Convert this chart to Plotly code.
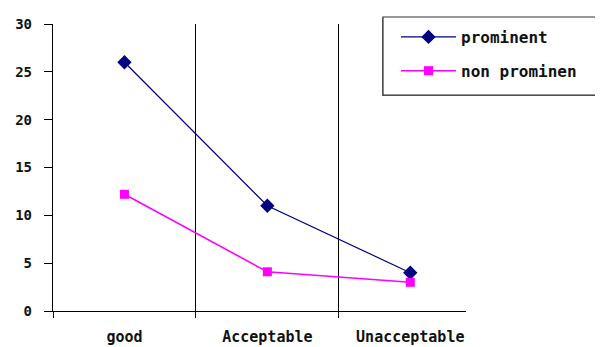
import plotly.graph_objects as go

categories = ["good", "Acceptable", "Unacceptable"]
prominent = [26, 11, 4]
non_prominent = [12.2, 4.1, 3]
series_names = ["prominent", "non prominen"]
y_ticks = [0, 5, 10, 15, 20, 25, 30]

fig = go.Figure()
fig.add_trace(go.Scatter(
    x=categories, y=prominent, name=series_names[0], mode="lines+markers",
    legendgroup="a",
    line=dict(color="#000080", width=1.2),
    marker=dict(symbol="diamond", size=11, color="#000080"),
))
fig.add_trace(go.Scatter(
    x=categories, y=non_prominent, name=series_names[1], mode="lines+markers",
    legendgroup="b",
    line=dict(color="#FF00FF", width=1.6),
    marker=dict(symbol="square", size=9, color="#FF00FF"),
))

mono = "DejaVu Sans Mono"

# the page body adds an 8px offset, so the figure is 8px smaller
fig.update_layout(
    width=595, height=339,
    margin=dict(l=45, r=137, t=16, b=36, autoexpand=False),
    paper_bgcolor="white", plot_bgcolor="white",
    font=dict(family=mono, size=14, color="black"),
    showlegend=True,
    legend=dict(
        x=0.8305, y=1.014, xanchor="left", yanchor="top",
        bgcolor="rgba(0,0,0,0)", borderwidth=0,
        font=dict(family=mono, size=16, weight="bold", color="#111111"),
        tracegroupgap=10, itemwidth=55,
    ),
    shapes=[
        # legend shadow
        dict(type="rect", xref="paper", yref="paper", layer="above",
             x0=0.797, x1=1.7, y0=0.749, y1=1.021,
             line=dict(width=0), fillcolor="#666666"),
        # legend background (no outline)
        dict(type="rect", xref="paper", yref="paper", layer="above",
             x0=0.799, x1=1.7, y0=0.7526, y1=1.0244,
             line=dict(width=0), fillcolor="white"),
        # legend outline: top, left, bottom only (box runs off the right edge)
        dict(type="path", xref="paper", yref="paper", layer="above",
             path="M 1.7,1.0244 L 0.799,1.0244 L 0.799,0.7526 L 1.7,0.7526",
             line=dict(color="#333333", width=1.2)),
    ],
    xaxis=dict(
        type="category", range=[-0.5, 2.39], automargin=False,
        tickson="boundaries", showgrid=True, gridcolor="black", gridwidth=1.3,
        showline=True, linecolor="black", linewidth=1.3,
        ticks="outside", ticklen=6, tickcolor="black",
        ticklabelstandoff=12, zeroline=False,
        tickfont=dict(family=mono, size=15, weight="bold", color="#111111"),
    ),
    yaxis=dict(
        range=[0, 30], tickvals=y_ticks, showgrid=False, automargin=False,
        showline=True, linecolor="black", linewidth=1.3,
        ticks="outside", ticklen=8, tickcolor="black", zeroline=False,
        ticklabelstandoff=9,
        tickfont=dict(family=mono, size=14, weight="bold", color="#111111"),
    ),
)

fig.write_html("out.html")
